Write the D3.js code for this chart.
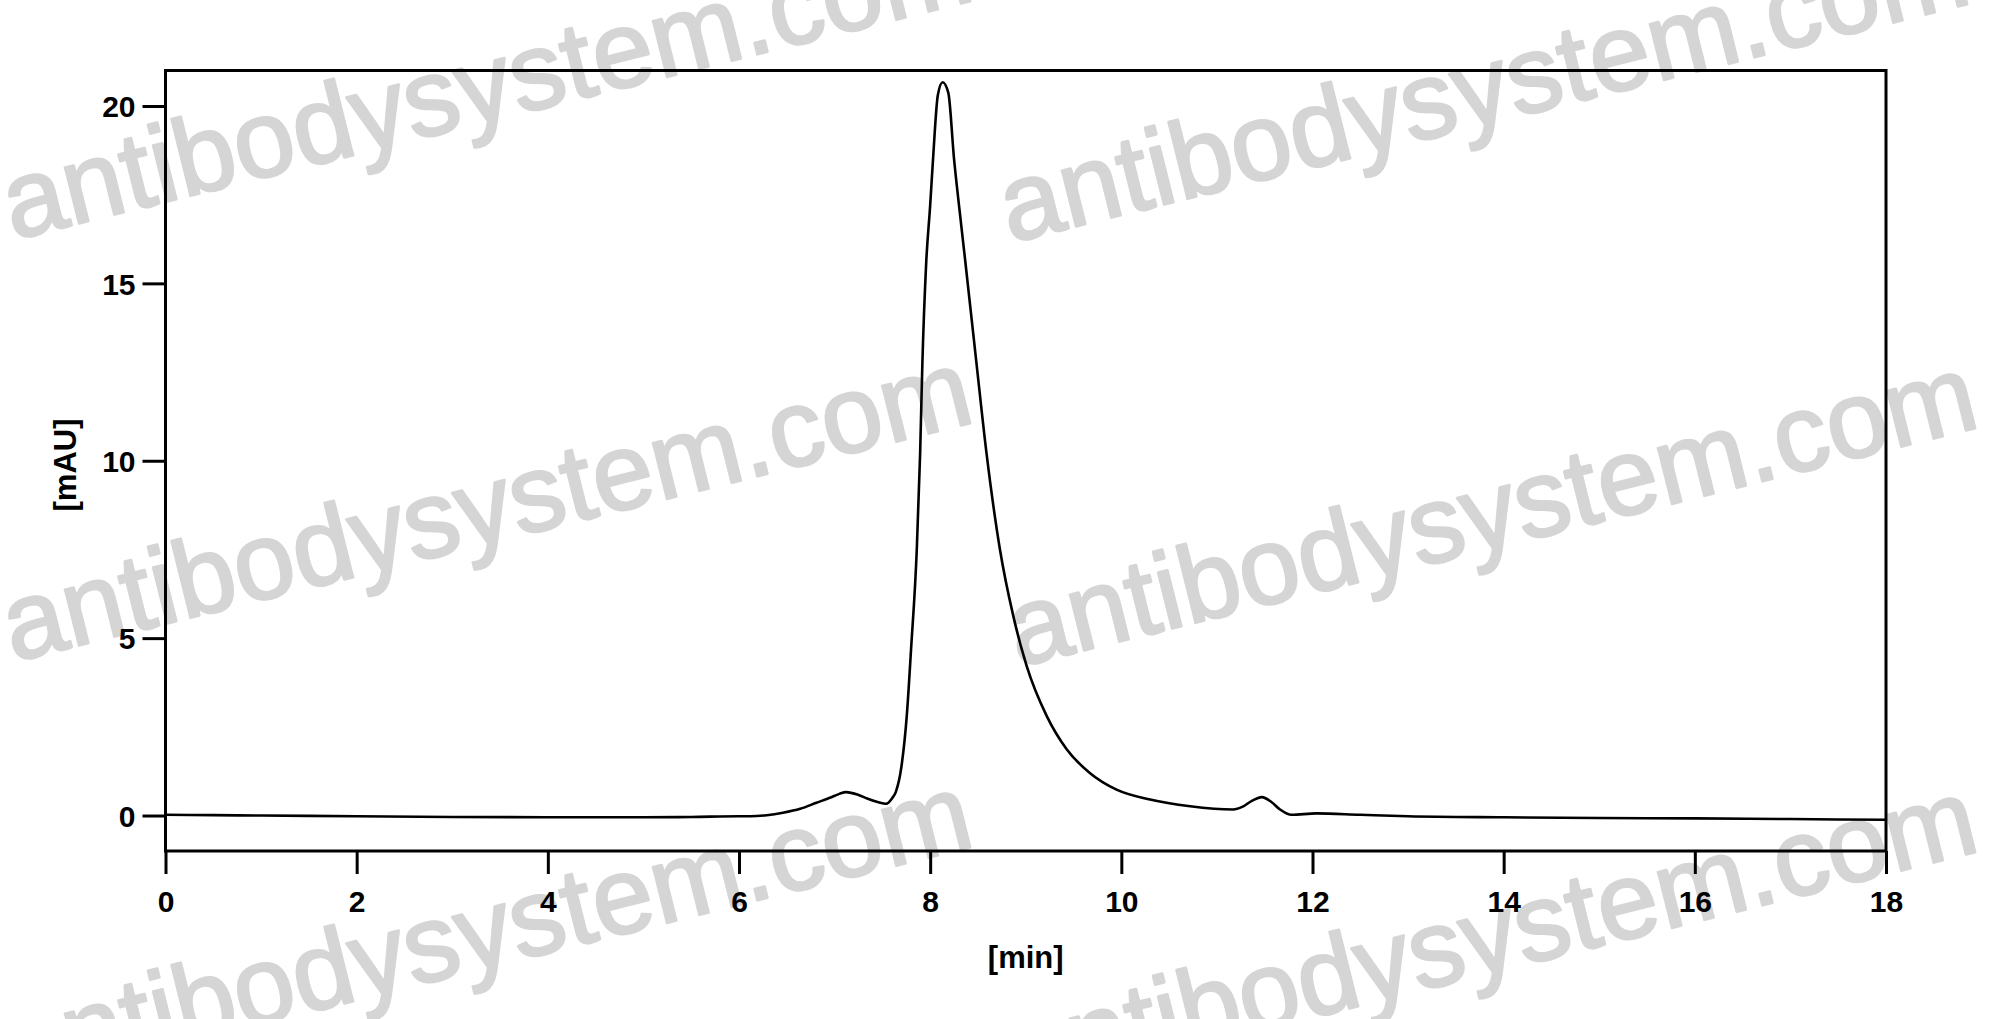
<!DOCTYPE html>
<html>
<head>
<meta charset="utf-8">
<script src="https://cdn.jsdelivr.net/npm/d3@7"></script>
<style>
  body { margin: 0; background: #fff; }
  svg { display: block; }
  .tick-label { font-family: "Liberation Sans", Arial, sans-serif; font-weight: bold; font-size: 30px; fill: #000; }
  .axis-title { font-family: "Liberation Sans", Arial, sans-serif; font-weight: bold; font-size: 31px; fill: #000; }
  .watermark { font-family: "Liberation Sans", Arial, sans-serif; font-size: 109px; fill: #d5d5d5; stroke: #d5d5d5; stroke-width: 2.5px; stroke-linejoin: round; }
</style>
</head>
<body>
<div id="chart"></div>
<script>
// Retention time (min) and absorbance (mAU)
var timeMin = [0, 0.5, 1, 2, 3, 4, 5, 5.5, 6, 6.12, 6.29, 6.46, 6.64, 6.81, 6.95, 7.05, 7.12, 7.25, 7.34, 7.45, 7.54,
    7.6, 7.64, 7.7, 7.755, 7.8, 7.86, 7.895, 7.918, 7.957, 8.0, 8.03, 8.08, 8.13, 8.19, 8.25, 8.31, 8.365, 8.48,
    8.59, 8.73, 8.87, 9.01, 9.22, 9.43, 9.67, 9.95, 10.3, 10.72, 11.17, 11.27, 11.37, 11.47, 11.57, 11.66, 11.78,
    12.04, 12.5, 13, 14, 15, 16, 17, 18];
var mAU = [0.02, 0.01, 0, -0.02, -0.04, -0.05, -0.05, -0.04, -0.02, -0.02, 0.01, 0.08, 0.19, 0.36, 0.5, 0.61, 0.66, 0.58, 0.48, 0.38, 0.33,
    0.48, 0.66, 1.39, 2.8, 4.68, 7.5, 10.2, 12.7, 15.5, 17.2, 18.5, 20.3, 20.67, 20.37, 18.5, 17.0, 15.68, 12.86,
    10.2, 7.5, 5.62, 4.21, 2.8, 1.86, 1.2, 0.73, 0.45, 0.26, 0.17, 0.25, 0.42, 0.52, 0.38, 0.17, 0.02,
    0.06, 0.02, -0.02, -0.05, -0.07, -0.08, -0.1, -0.12];

var xTicks = [0, 2, 4, 6, 8, 10, 12, 14, 16, 18];
var yTicks = [0, 5, 10, 15, 20];

var xTitle = "[min]";
var yTitle = "[mAU]";
var watermarkText = "antibodysystem.com";

// Page and plot frame
var width = 1996, height = 1019;
var frame = { left: 165.5, top: 70.5, right: 1886, bottom: 851 };
var tickLen = 23;

// watermark anchor points (baseline start of each copy)
var marks = [[13, 240], [1010, 243], [13, 662], [1018, 667], [13, 1086], [1018, 1091]];

var svg = d3.select("#chart").append("svg")
    .attr("width", width)
    .attr("height", height);

svg.append("rect").attr("width", width).attr("height", height).attr("fill", "#fff");

// watermark behind everything
svg.append("g").selectAll("text")
    .data(marks)
    .enter().append("text")
    .attr("class", "watermark")
    .attr("transform", d => "translate(" + d[0] + "," + d[1] + ") rotate(-14)")
    .text(watermarkText);

var x = d3.scaleLinear().domain([0, 18]).range([frame.left, frame.right]);
var y = d3.scaleLinear().domain([-1, 21]).range([frame.bottom, frame.top]);

// x axis ticks below the frame
var xAxis = d3.axisBottom(x).tickValues(xTicks).tickSize(tickLen).tickPadding(12).tickFormat(d3.format("d"));
var gx = svg.append("g")
    .attr("transform", "translate(0," + frame.bottom + ")")
    .call(xAxis);
gx.select(".domain").remove();
gx.selectAll(".tick line").attr("stroke", "#000").attr("stroke-width", 3);
gx.selectAll(".tick text").attr("class", "tick-label").attr("dy", "0.71em").attr("y", tickLen + 17);

// y axis ticks left of the frame
var yAxis = d3.axisLeft(y).tickValues(yTicks).tickSize(tickLen).tickPadding(8).tickFormat(d3.format("d"));
var gy = svg.append("g")
    .attr("transform", "translate(" + frame.left + ",0)")
    .call(yAxis);
gy.select(".domain").remove();
gy.selectAll(".tick line").attr("stroke", "#000").attr("stroke-width", 3);
gy.selectAll(".tick text").attr("class", "tick-label").attr("x", -(tickLen + 7)).attr("dy", "0.36em");

// frame
svg.append("rect")
    .attr("x", frame.left)
    .attr("y", frame.top)
    .attr("width", frame.right - frame.left)
    .attr("height", frame.bottom - frame.top)
    .attr("fill", "none")
    .attr("stroke", "#000")
    .attr("stroke-width", 3);

// chromatogram trace
var points = timeMin.map((t, i) => [t, mAU[i]]);
var line = d3.line()
    .x(d => x(d[0]))
    .y(d => y(d[1]))
    .curve(d3.curveMonotoneX);

svg.append("path")
    .datum(points)
    .attr("d", line)
    .attr("fill", "none")
    .attr("stroke", "#000")
    .attr("stroke-width", 2.6)
    .attr("stroke-linejoin", "round");

// axis titles
svg.append("text")
    .attr("class", "axis-title")
    .attr("text-anchor", "middle")
    .attr("x", (frame.left + frame.right) / 2)
    .attr("y", 968)
    .text(xTitle);

svg.append("text")
    .attr("class", "axis-title")
    .attr("text-anchor", "middle")
    .attr("transform", "translate(65,465) rotate(-90)")
    .attr("dy", "0.35em")
    .text(yTitle);
</script>
</body>
</html>
